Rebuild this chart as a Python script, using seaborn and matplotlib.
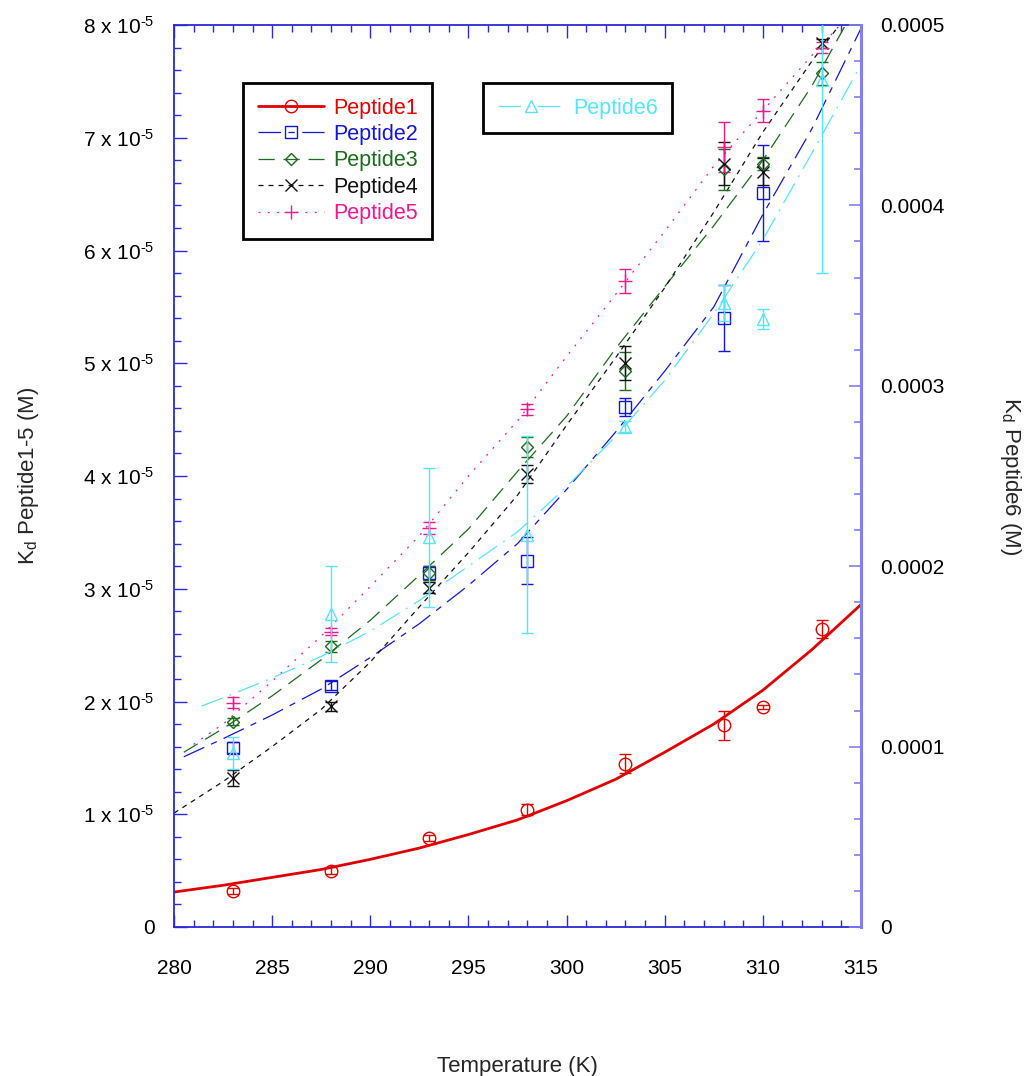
import numpy as np
import matplotlib
matplotlib.use("Agg")
import matplotlib.pyplot as plt
from matplotlib.lines import Line2D
from matplotlib.ticker import FuncFormatter, MultipleLocator
import seaborn as sns

sns.set_theme(style="ticks")
plt.rcParams['font.family'] = ['Liberation Sans', 'DejaVu Sans']
plt.rcParams['mathtext.fontset'] = 'custom'
plt.rcParams['mathtext.rm'] = 'Liberation Sans'
plt.rcParams['mathtext.it'] = 'Liberation Sans:italic'
plt.rcParams['mathtext.bf'] = 'Liberation Sans:bold'

# ---- measured dissociation constants (Peptide1-5 in 1e-5 M, Peptide6 in 1e-4 M) ----
temps = [283, 288, 293, 298, 303, 308, 310, 313]
temps_p2 = [283, 288, 293, 298, 303, 308, 310]

p1 = [0.32, 0.50, 0.79, 1.04, 1.45, 1.79, 1.95, 2.64]
p1_err = [0.03, 0.03, 0.03, 0.05, 0.08, 0.13, 0.02, 0.08]
p2 = [1.59, 2.14, 3.14, 3.25, 4.61, 5.40, 6.51]
p2_err = [0.05, 0.04, 0.06, 0.21, 0.08, 0.29, 0.43]
p3 = [1.82, 2.49, 3.14, 4.26, 4.93, 6.72, 6.77, 7.57]
p3_err = [0.03, 0.05, 0.06, 0.09, 0.17, 0.18, 0.06, 0.10]
p4 = [1.32, 1.96, 3.01, 4.02, 5.00, 6.77, 6.70, 7.84]
p4_err = [0.07, 0.04, 0.05, 0.08, 0.15, 0.19, 0.12, 0.04]
p5 = [1.99, 2.62, 3.54, 4.59, 5.73, 6.92, 7.24, 7.80]
p5_err = [0.05, 0.03, 0.05, 0.045, 0.11, 0.22, 0.10, 0.05]
p6 = [0.963, 1.735, 2.16, 2.175, 2.773, 3.457, 3.37, 4.695]
p6_err = [0.088, 0.265, 0.385, 0.545, 0.03, 0.10, 0.054, 1.07]

# ---- fitted curves (same units) ----
fit1_T = [280, 282.5, 285, 287.5, 290, 292.5, 295, 297.5, 300, 302.5, 305, 307.5, 310, 312.5, 315]
fit1 = [0.31, 0.37, 0.44, 0.51, 0.60, 0.70, 0.82, 0.95, 1.12, 1.31, 1.55, 1.80, 2.10, 2.46, 2.86]
fit2_T = [280.5, 282.5, 285, 287.5, 290, 292.5, 295, 297.5, 300, 302.5, 305, 307.5, 310, 312.5, 315]
fit2 = [1.51, 1.67, 1.88, 2.11, 2.39, 2.69, 3.03, 3.40, 3.88, 4.39, 4.93, 5.50, 6.32, 7.08, 7.97]
fit3_T = [280.5, 282.5, 285, 287.5, 290, 292.5, 295, 297.5, 300, 302.5, 305, 307.5, 310, 312.5, 315]
fit3 = [1.55, 1.76, 2.05, 2.37, 2.72, 3.12, 3.53, 4.04, 4.53, 5.13, 5.68, 6.22, 6.80, 7.46, 8.25]
fit4_T = [280, 282.5, 285, 287.5, 290, 292.5, 295, 297.5, 300, 302.5, 305, 307.5, 310, 312.5, 315]
fit4 = [1.01, 1.29, 1.60, 1.93, 2.35, 2.84, 3.32, 3.83, 4.45, 5.05, 5.67, 6.34, 7.05, 7.68, 8.25]
fit5_T = [281, 282.5, 285, 287.5, 290, 292.5, 295, 297.5, 300, 302.5, 305, 307.5, 310, 312.5, 315]
fit5 = [1.62, 1.80, 2.18, 2.58, 3.02, 3.47, 4.00, 4.49, 5.06, 5.61, 6.17, 6.75, 7.24, 7.73, 8.20]
fit6_T = [281.4, 282.5, 285, 287.5, 290, 292.5, 295, 297.5, 300, 302.5, 305, 307.5, 310, 312.5, 315]
fit6 = [1.225, 1.27, 1.38, 1.50, 1.64, 1.81, 2.00, 2.19, 2.44, 2.72, 3.03, 3.40, 3.81, 4.29, 4.78]

names = ["Peptide1", "Peptide2", "Peptide3", "Peptide4", "Peptide5", "Peptide6"]
colors = ["#e00000", "#1515d8", "#1d6b1d", "#111111", "#f0168c", "#55e4f8"]
markers = ["o", "s", "D", "x", "+", "^"]
msizes = [9, 8.5, 6.5, 9, 10, 8.5]
styles = ["-", (0, (18, 6, 5, 6)), (0, (13, 7)), (0, (4, 4)), (0, (1.5, 6)), (0, (18, 6, 1.5, 6))]
widths = [2.0, 0.9, 0.9, 0.9, 0.9, 0.9]

TICK_FS = 15
LABEL_FS = 16
LEGEND_FS = 15.5

fig = plt.figure(figsize=(10.29, 10.76), dpi=100)
ax = fig.add_axes([174 / 1029, 1 - 927 / 1076, 687 / 1029, 902 / 1076])
ax2 = ax.twinx()

left_sets = [
    (fit1_T, fit1, temps, p1, p1_err),
    (fit2_T, fit2, temps_p2, p2, p2_err),
    (fit3_T, fit3, temps, p3, p3_err),
    (fit4_T, fit4, temps, p4, p4_err),
    (fit5_T, fit5, temps, p5, p5_err),
]
for i, (ft, fv, tx, vy, ve) in enumerate(left_sets):
    sns.lineplot(x=ft, y=np.array(fv) * 1e-5, ax=ax, color=colors[i],
                 linestyle=styles[i], linewidth=widths[i], zorder=2)
    ax.errorbar(tx, np.array(vy) * 1e-5, yerr=np.array(ve) * 1e-5, fmt="none",
                ecolor=colors[i], elinewidth=1, capsize=4, capthick=1, zorder=3)
    ax.plot(tx, np.array(vy) * 1e-5, linestyle="none", marker=markers[i],
            ms=msizes[i], mfc="none", mec=colors[i], mew=1, zorder=4)

sns.lineplot(x=fit6_T, y=np.array(fit6) * 1e-4, ax=ax2, color=colors[5],
             linestyle=styles[5], linewidth=widths[5], zorder=2)
ax2.errorbar(temps, np.array(p6) * 1e-4, yerr=np.array(p6_err) * 1e-4, fmt="none",
             ecolor=colors[5], elinewidth=1, capsize=4, capthick=1, zorder=3)
ax2.plot(temps, np.array(p6) * 1e-4, linestyle="none", marker=markers[5],
         ms=msizes[5], mfc="none", mec=colors[5], mew=1, zorder=4)

ax.set_xlim(280, 315)
ax.set_ylim(0, 8e-5)
ax2.set_ylim(0, 5e-4)

ax.xaxis.set_major_locator(MultipleLocator(5))
ax.xaxis.set_minor_locator(MultipleLocator(1))
ax.yaxis.set_major_locator(MultipleLocator(1e-5))
ax.yaxis.set_minor_locator(MultipleLocator(0.2e-5))
ax2.yaxis.set_major_locator(MultipleLocator(1e-4))
ax2.yaxis.set_minor_locator(MultipleLocator(0.2e-4))


def left_fmt(v, pos):
    n = int(round(v / 1e-5))
    return "0" if n == 0 else f"{n} x 10$^{{\\text{{-5}}}}$"


def right_fmt(v, pos):
    return "0" if abs(v) < 1e-12 else f"{v:.4f}"


ax.yaxis.set_major_formatter(FuncFormatter(left_fmt))
ax2.yaxis.set_major_formatter(FuncFormatter(right_fmt))

axis_blue = "#2a2ad8"
light_blue = "#8080f2"
for side in ["left", "bottom", "top"]:
    ax.spines[side].set_color(axis_blue)
    ax.spines[side].set_linewidth(1.3)
ax.spines["right"].set_visible(False)
for side in ["left", "bottom", "top"]:
    ax2.spines[side].set_visible(False)
ax2.spines["right"].set_color(light_blue)
ax2.spines["right"].set_linewidth(2.2)

ax.tick_params(axis="x", which="both", direction="in", top=True, bottom=True,
               color=axis_blue, labelcolor="black", labelsize=TICK_FS, pad=23)
ax.tick_params(axis="y", which="both", direction="in", left=True, right=False,
               color=axis_blue, labelcolor="black", labelsize=TICK_FS, pad=14)
ax.tick_params(which="major", length=9, width=1)
ax.tick_params(which="minor", length=5, width=1)
ax2.tick_params(axis="y", which="both", direction="in", right=True, left=False,
                color=light_blue, labelcolor="black", labelsize=TICK_FS, pad=14)
ax2.tick_params(which="major", length=9, width=1.2)
ax2.tick_params(which="minor", length=5, width=1.2)

ax.set_xlabel("Temperature (K)", fontsize=LABEL_FS, labelpad=56)
ax.set_ylabel(r"K$_{\mathregular{d}}$ Peptide1-5 (M)", fontsize=LABEL_FS, labelpad=30)
ax2.set_ylabel(r"K$_{\mathregular{d}}$ Peptide6 (M)", fontsize=LABEL_FS, labelpad=38,
               rotation=-90, va="bottom")

# legends
handles = [Line2D([], [], color=colors[i], linestyle=styles[i], linewidth=widths[i],
                  marker=markers[i], ms=msizes[i], mfc="none", mec=colors[i])
           for i in range(6)]

leg_kw = dict(fontsize=LEGEND_FS, frameon=True, fancybox=False, framealpha=1,
              edgecolor="black", handlelength=3.1, handletextpad=0.4,
              borderpad=0.68, labelspacing=0.25, borderaxespad=0, loc="upper left")
leg1 = ax2.legend(handles[:5], names[:5], bbox_to_anchor=(0.1004, 0.9357), **leg_kw)
leg1.get_frame().set_linewidth(2)
for t, c in zip(leg1.get_texts(), colors[:5]):
    t.set_color(c)
ax2.add_artist(leg1)
leg2 = ax2.legend(handles[5:], names[5:], bbox_to_anchor=(0.4498, 0.9357), **leg_kw)
leg2.get_frame().set_linewidth(2)
for t, c in zip(leg2.get_texts(), colors[5:]):
    t.set_color(c)

fig.savefig("out.png", dpi=100)
